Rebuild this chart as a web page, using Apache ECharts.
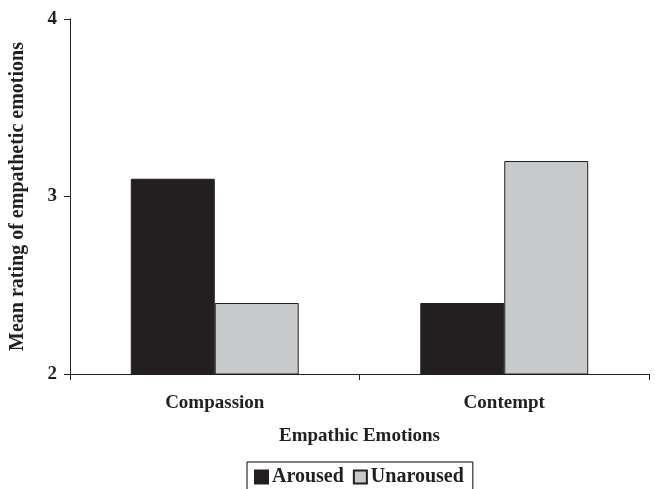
<!DOCTYPE html>
<html>
<head>
<meta charset="utf-8">
<script src="https://cdn.jsdelivr.net/npm/echarts@6/dist/echarts.min.js"></script>
<style>
  html, body { margin: 0; padding: 0; background: #fff; }
  #main { width: 655px; height: 489px; }
</style>
</head>
<body>
<div id="main"></div>
<script>
var categories = ['Compassion', 'Contempt'];
var seriesNames = ['Aroused', 'Unaroused'];
var aroused = [3.10, 2.40];
var unaroused = [2.40, 3.20];
var yTicks = [2, 3, 4];

var font = '"Liberation Serif", "Times New Roman", serif';
var ink = '#231f20';

var option = {
    backgroundColor: '#fff',
    animation: false,
    textStyle: { fontFamily: font, color: ink },
    grid: {
        left: 68,
        right: 6,
        top: 19,
        bottom: 115
    },
    legend: {
        data: seriesNames,
        bottom: -6,
        left: 247,
        icon: 'rect',
        itemWidth: 13,
        itemHeight: 13,
        itemGap: 9,
        padding: [5, 9, 8, 7],
        borderColor: '#000',
        borderWidth: 1,
        borderRadius: 0,
        textStyle: { fontFamily: font, fontWeight: 'bold', fontSize: 20, color: ink, padding: [0, 0, 0, -1] }
    },
    xAxis: {
        type: 'category',
        data: categories,
        name: 'Empathic Emotions',
        nameLocation: 'middle',
        nameGap: 53,
        nameTextStyle: { fontFamily: font, fontWeight: 'bold', fontSize: 19, color: ink },
        axisLine: { lineStyle: { color: ink, width: 1 } },
        axisTick: { show: true, length: 6, lineStyle: { color: ink } },
        axisLabel: { fontFamily: font, fontWeight: 'bold', fontSize: 19, color: ink, margin: 20 }
    },
    yAxis: {
        type: 'value',
        min: yTicks[0],
        max: yTicks[yTicks.length - 1],
        interval: 1,
        name: 'Mean rating of empathetic emotions',
        nameLocation: 'middle',
        nameRotate: 90,
        nameGap: 42,
        nameTextStyle: { fontFamily: font, fontWeight: 'bold', fontSize: 20, color: ink },
        axisLine: { show: true, lineStyle: { color: ink, width: 1 } },
        axisTick: { show: true, length: 6, lineStyle: { color: ink } },
        splitLine: { show: false },
        axisLabel: { fontFamily: font, fontWeight: 'bold', fontSize: 19, color: ink, margin: 13 }
    },
    series: [
        {
            name: seriesNames[0],
            type: 'bar',
            data: aroused,
            barGap: '0%',
            barCategoryGap: '42%',
            itemStyle: { color: ink, borderColor: ink, borderWidth: 1 }
        },
        {
            name: seriesNames[1],
            type: 'bar',
            data: unaroused,
            itemStyle: { color: '#c8c9cb', borderColor: ink, borderWidth: 1 }
        }
    ]
};

var myChart = echarts.init(document.getElementById('main'));
myChart.setOption(option);
</script>
</body>
</html>
